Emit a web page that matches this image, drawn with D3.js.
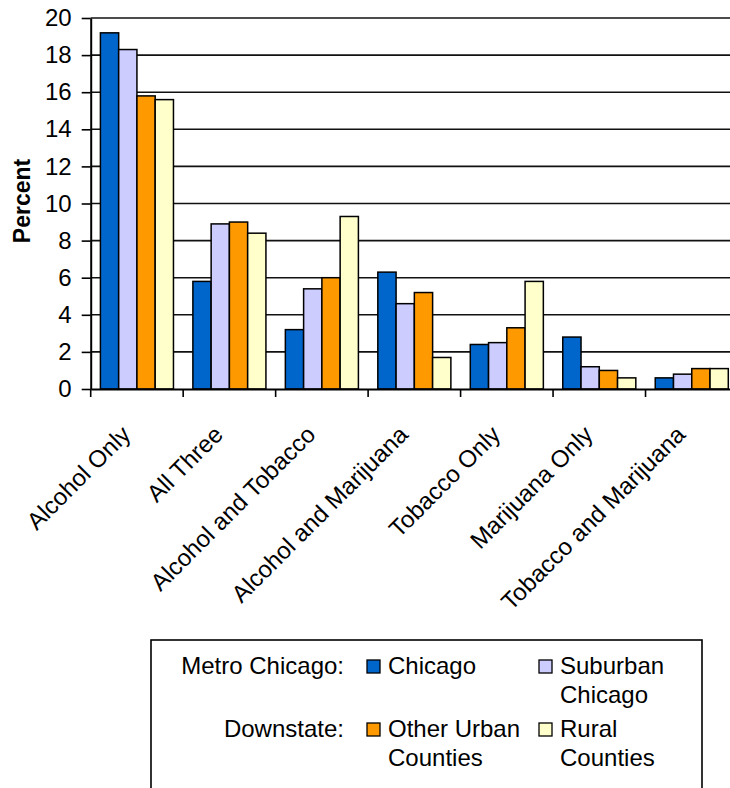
<!DOCTYPE html>
<html>
<head>
<meta charset="utf-8">
<script src="https://cdn.jsdelivr.net/npm/d3@7"></script>
<style>
  html, body { margin: 0; padding: 0; background: #fff; }
  svg { display: block; font-family: "Liberation Sans", Arial, sans-serif; }
</style>
</head>
<body>
<svg id="chart" width="730" height="788"></svg>
<script>
// Substance-use combinations by region (percent of respondents)
const categories = [
  "Alcohol Only", "All Three", "Alcohol and Tobacco", "Alcohol and Marijuana",
  "Tobacco Only", "Marijuana Only", "Tobacco and Marijuana"
];
const seriesNames = ["Chicago", "Suburban Chicago", "Other Urban Counties", "Rural Counties"];
const chicago    = [19.2, 5.8, 3.2, 6.3, 2.4, 2.8, 0.6];
const suburban   = [18.3, 8.9, 5.4, 4.6, 2.5, 1.2, 0.8];
const otherUrban = [15.8, 9.0, 6.0, 5.2, 3.3, 1.0, 1.1];
const rural      = [15.6, 8.4, 9.3, 1.7, 5.8, 0.6, 1.1];
const yTicks = [0, 2, 4, 6, 8, 10, 12, 14, 16, 18, 20];
const colors = ["#0066CC", "#CCCCFF", "#FF9900", "#FFFFCC"];

const seriesValues = [chicago, suburban, otherUrban, rural];

const svg = d3.select("#chart");
const plotLeft = 90.7, plotRight = 738, plotTop = 18, plotBottom = 389;

const y = d3.scaleLinear().domain([0, 20]).range([plotBottom, plotTop]);
const x0 = d3.scaleBand().domain(categories).range([plotLeft, plotRight])
  .paddingInner(0.21).paddingOuter(0.105);
const x1 = d3.scaleBand().domain(seriesNames).range([0, x0.bandwidth()]);
const color = d3.scaleOrdinal().domain(seriesNames).range(colors);

// horizontal gridlines
svg.append("g").selectAll("line").data(yTicks.filter(d => d > 0)).join("line")
  .attr("x1", plotLeft).attr("x2", plotRight)
  .attr("y1", d => y(d)).attr("y2", d => y(d))
  .attr("stroke", "#111").attr("stroke-width", 1.6);

// bars
const groups = svg.append("g").selectAll("g").data(categories).join("g")
  .attr("transform", c => `translate(${x0(c)},0)`);
groups.selectAll("rect")
  .data((c, i) => seriesNames.map((s, j) => ({ s, v: seriesValues[j][i] })))
  .join("rect")
  .attr("x", d => x1(d.s))
  .attr("width", x1.bandwidth())
  .attr("y", d => y(d.v))
  .attr("height", d => y(0) - y(d.v))
  .attr("fill", d => color(d.s))
  .attr("stroke", "#000").attr("stroke-width", 1.5);

// y axis
const yAxis = svg.append("g").attr("transform", `translate(${plotLeft},0)`)
  .call(d3.axisLeft(y).tickValues(yTicks).tickSize(9).tickPadding(10).tickSizeOuter(0));
yAxis.select(".domain").attr("stroke", "#000").attr("stroke-width", 2);
yAxis.selectAll(".tick line").attr("stroke", "#000").attr("stroke-width", 1.6);
yAxis.selectAll(".tick text").attr("font-size", 24).attr("fill", "#000")
  .attr("font-family", "Liberation Sans, Arial, sans-serif");

// x axis: baseline, boundary ticks, rotated category labels
const xAxis = svg.append("g").attr("transform", `translate(0,${plotBottom})`)
  .call(d3.axisBottom(x0).tickSize(0).tickPadding(0).tickSizeOuter(0));
xAxis.select(".domain").attr("stroke", "#000").attr("stroke-width", 2);
const step = x0.step();
const bounds = categories.map(c => x0(c) - (step - x0.bandwidth()) / 2);
bounds.push(bounds[bounds.length - 1] + step);
xAxis.selectAll(".bound").data(bounds).join("line").attr("class", "bound")
  .attr("x1", d => d).attr("x2", d => d).attr("y1", 0).attr("y2", 8)
  .attr("stroke", "#000").attr("stroke-width", 1.6);
xAxis.selectAll(".tick text")
  .attr("font-size", 24).attr("fill", "#000")
  .attr("font-family", "Liberation Sans, Arial, sans-serif")
  .attr("text-anchor", "end")
  .attr("y", 0).attr("dy", 0)
  .attr("transform", "translate(-5,47) rotate(-45)");

// y axis title
svg.append("text")
  .attr("transform", "translate(30,201) rotate(-90)")
  .attr("text-anchor", "middle")
  .attr("font-size", 23).attr("font-weight", "bold")
  .text("Percent");

// legend
const legend = svg.append("g");
legend.append("rect").attr("x", 151).attr("y", 640).attr("width", 551).attr("height", 170)
  .attr("fill", "#fff").attr("stroke", "#000").attr("stroke-width", 1.6);
const groupLabels = [
  { text: "Metro Chicago:", y: 674 },
  { text: "Downstate:", y: 737 }
];
legend.selectAll(".grp").data(groupLabels).join("text").attr("class", "grp")
  .attr("x", 344).attr("y", d => d.y).attr("text-anchor", "end")
  .attr("font-size", 24).text(d => d.text);

const legendItems = [
  { s: "Chicago", lines: ["Chicago"], x: 367, y: 674 },
  { s: "Suburban Chicago", lines: ["Suburban", "Chicago"], x: 539, y: 674 },
  { s: "Other Urban Counties", lines: ["Other Urban", "Counties"], x: 367, y: 737 },
  { s: "Rural Counties", lines: ["Rural", "Counties"], x: 539, y: 737 }
];
const items = legend.selectAll(".item").data(legendItems).join("g").attr("class", "item");
items.append("rect")
  .attr("x", d => d.x).attr("y", d => d.y - 14)
  .attr("width", 13).attr("height", 13)
  .attr("fill", d => color(d.s)).attr("stroke", "#000").attr("stroke-width", 1.3);
items.append("text")
  .attr("x", d => d.x + 21).attr("y", d => d.y)
  .attr("font-size", 24)
  .selectAll("tspan").data(d => d.lines.map((t, i) => ({ t, i, x: d.x + 21 }))).join("tspan")
  .attr("x", d => d.x).attr("dy", d => d.i === 0 ? 0 : 29).text(d => d.t);
</script>
</body>
</html>
